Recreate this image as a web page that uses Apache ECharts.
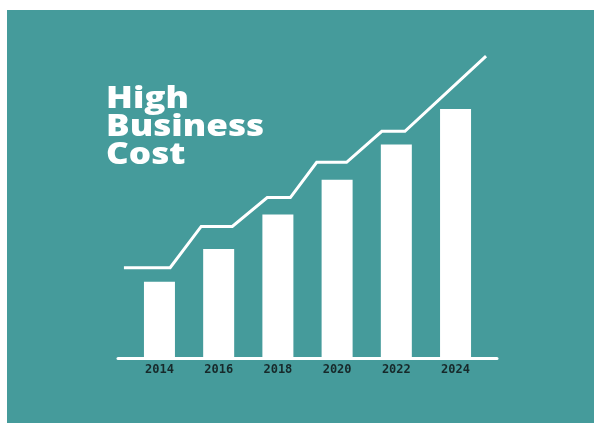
<!DOCTYPE html>
<html>
<head>
<meta charset="utf-8">
<script src="https://cdn.jsdelivr.net/npm/echarts@6/dist/echarts.min.js"></script>
<style>
  html, body { margin: 0; padding: 0; background: #ffffff; }
  #chart { width: 603px; height: 433px; }
</style>
</head>
<body>
<div id="chart"></div>
<script>
// Data
var years = [2014, 2016, 2018, 2020, 2022, 2024];
var barValues = [25.3, 36.2, 47.7, 59.2, 70.9, 82.7];
var trendX = [2012.80, 2014.36, 2015.41, 2016.46, 2017.64, 2018.42, 2019.31, 2020.32, 2021.51, 2022.29, 2025.03];
var trendY = [30, 30, 43.7, 43.7, 53.3, 53.3, 65, 65, 75.3, 75.3, 100.3];
var titleLines = ['High', 'Business', 'Cost'];

var chart = echarts.init(document.getElementById('chart'), null, { renderer: 'canvas' });

var barData = years.map(function (y, i) { return [y, barValues[i]]; });
var lineData = trendX.map(function (x, i) { return [x, trendY[i]]; });

chart.setOption({
  backgroundColor: '#ffffff',
  animation: false,
  graphic: [
    {
      type: 'rect',
      z: -10,
      shape: { x: 7, y: 10, width: 587, height: 413 },
      style: { fill: '#459b9b' }
    },
    {
      type: 'text',
      x: 106,
      y: 85,
      scaleX: 1.17,
      z: 10,
      style: {
        text: titleLines.join('\n'),
        fill: '#ffffff',
        fontFamily: 'Open Sans',
        fontWeight: 800,
        fontSize: 30,
        lineHeight: 28,
        verticalAlign: 'top',
        align: 'left'
      }
    }
  ],
  grid: { left: 118, right: 106, top: 54, bottom: 75 },
  xAxis: {
    type: 'value',
    min: 2012.6,
    max: 2025.4,
    axisLine: { show: true, lineStyle: { color: '#ffffff', width: 3 } },
    axisTick: { show: false },
    splitLine: { show: false },
    axisLabel: {
      customValues: years,
      formatter: function (v) { return String(v); },
      color: '#17292a',
      fontFamily: 'DejaVu Sans Mono',
      fontWeight: 'bold',
      fontSize: 12,
      margin: 6
    }
  },
  yAxis: {
    type: 'value',
    min: 0,
    max: 101,
    show: false,
    splitLine: { show: false }
  },
  series: [
    {
      type: 'bar',
      data: barData,
      barWidth: 31,
      itemStyle: { color: '#ffffff' },
      z: 2
    },
    {
      type: 'line',
      data: lineData,
      symbol: 'none',
      smooth: false,
      lineStyle: { color: '#ffffff', width: 3, join: 'miter' },
      z: 3
    }
  ]
});
</script>
</body>
</html>
